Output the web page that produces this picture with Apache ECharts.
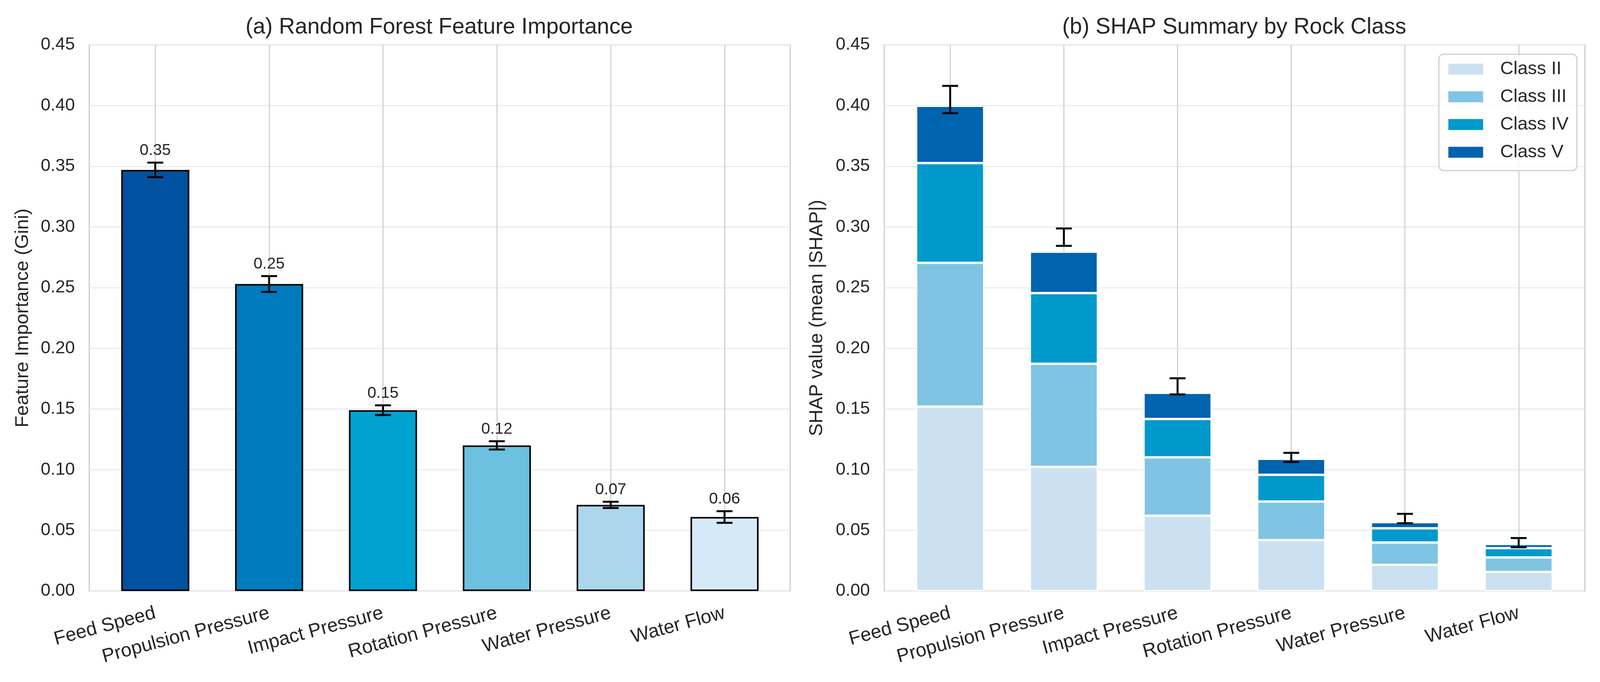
<!DOCTYPE html>
<html>
<head>
<meta charset="utf-8">
<script src="https://cdn.jsdelivr.net/npm/echarts@6/dist/echarts.min.js"></script>
<style>
  html, body { margin: 0; padding: 0; background: #fff; overflow: hidden; }
  #main { width: 100vw; height: 100vh; }
</style>
</head>
<body>
<div id="main"></div>
<script>
var features = ['Feed Speed', 'Propulsion Pressure', 'Impact Pressure', 'Rotation Pressure', 'Water Pressure', 'Water Flow'];
var yTicks = [0, 0.45, 0.05];

// (a) random forest importance and its std
var importance = [0.347, 0.253, 0.149, 0.120, 0.071, 0.061];
var importanceErr = [0.006, 0.0065, 0.004, 0.0034, 0.0026, 0.0048];
var importanceColors = ['#0052a0', '#007bbd', '#00a2d2', '#6cc0e0', '#add6ec', '#d6e9f7'];

// (b) mean |SHAP| per rock class
var classNames = ['Class II', 'Class III', 'Class IV', 'Class V'];
var classColors = ['#cbe1f1', '#7fc4e2', '#0099cb', '#0063ae'];
var shapClass2 = [0.152, 0.1023, 0.0621, 0.0419, 0.0216, 0.0158];
var shapClass3 = [0.1184, 0.085, 0.0481, 0.0318, 0.0184, 0.0119];
var shapClass4 = [0.0822, 0.0582, 0.0316, 0.0221, 0.0117, 0.0077];
var shapClass5 = [0.0472, 0.0341, 0.0215, 0.0132, 0.0051, 0.0034];
var shapErrLow = [0.3937, 0.2844, 0.162, 0.1063, 0.0559, 0.036];
var shapErrHigh = [0.4162, 0.2987, 0.1753, 0.1139, 0.0636, 0.0437];

var FONT = "'Liberation Sans', Arial, sans-serif";
var TXT = '#262626';

// layout was measured on a 4230x1747 figure; the window may be narrower
var el = document.getElementById('main');
var sx = el.clientWidth / 4230;
var sy = el.clientHeight / 1747;
var X = function(v) { return v * sx; };
var Y = function(v) { return v * sy; };
var F = function(v) { return Math.round(v * (sx + sy) / 2); };

var chart = echarts.init(el, null, {renderer: 'canvas'});

var errStyle = {stroke: '#000', lineWidth: 5};

function errorBar(lo, hi, cap) {
  return [
    {type: 'line', shape: {x1: lo[0], y1: lo[1], x2: hi[0], y2: hi[1]}, style: errStyle},
    {type: 'line', shape: {x1: lo[0] - cap, y1: lo[1], x2: lo[0] + cap, y2: lo[1]}, style: errStyle},
    {type: 'line', shape: {x1: hi[0] - cap, y1: hi[1], x2: hi[0] + cap, y2: hi[1]}, style: errStyle}
  ];
}

var frameAxisX = function(grid) {
  return {gridIndex: grid, type: 'value', min: 0, max: 1, show: false};
};
var frameAxisY = function(grid, name, gap) {
  return {
    gridIndex: grid, type: 'value', min: yTicks[0], max: yTicks[1], interval: yTicks[2],
    axisLine: {show: false}, axisTick: {show: false},
    axisLabel: {fontSize: F(46), fontFamily: FONT, color: TXT, margin: X(38), formatter: function(v){ return v.toFixed(2); }},
    splitLine: {show: true, lineStyle: {color: '#ebebeb', width: 3}},
    name: name, nameLocation: 'middle', nameGap: gap,
    nameTextStyle: {fontSize: F(50), fontFamily: FONT, color: TXT}
  };
};
var barAxisX = function(grid) {
  return {
    gridIndex: grid, type: 'category', data: features, boundaryGap: false,
    axisLine: {show: false}, axisTick: {show: false},
    axisLabel: {rotate: 15, fontSize: F(50), fontFamily: FONT, color: TXT, margin: Y(56), interval: 0},
    splitLine: {show: true, lineStyle: {color: '#d3d3d3', width: 3}}
  };
};
var barAxisY = function(grid) {
  return {gridIndex: grid, type: 'value', min: yTicks[0], max: yTicks[1], interval: yTicks[2], show: false, splitLine: {show: false}};
};

var stackSeries = [shapClass2, shapClass3, shapClass4, shapClass5].map(function(vals, k) {
  return {
    name: classNames[k], type: 'bar', stack: 'shap', xAxisIndex: 3, yAxisIndex: 3,
    barWidth: X(180), clip: false, data: vals,
    itemStyle: {color: classColors[k], borderColor: '#fff', borderWidth: 3}
  };
});

var titleStyle = {fontSize: F(58), fontFamily: FONT, fill: TXT, align: 'center', verticalAlign: 'middle'};

var option = {
  backgroundColor: '#fff',
  animation: false,
  textStyle: {fontFamily: FONT},
  graphic: [
    {type: 'text', x: X(1161), y: Y(70), style: Object.assign({text: '(a) Random Forest Feature Importance'}, titleStyle)},
    {type: 'text', x: X(3263), y: Y(70), style: Object.assign({text: '(b) SHAP Summary by Rock Class'}, titleStyle)}
  ],
  legend: {
    data: classNames, orient: 'vertical', left: X(3804), top: Y(139),
    icon: 'rect', itemWidth: X(94), itemHeight: Y(30), itemGap: Y(23),
    padding: [Y(14), X(22), Y(23), X(23)],
    backgroundColor: 'rgba(255,255,255,0.8)', borderColor: '#d0d0d0', borderWidth: 3, borderRadius: 12,
    textStyle: {fontSize: F(48), fontFamily: FONT, color: TXT, lineHeight: Y(48), padding: [0, 0, 0, X(39)]}
  },
  grid: [
    {left: X(236), top: Y(115), width: X(1853), height: Y(1399), show: true, borderColor: '#cccccc', borderWidth: 3, backgroundColor: 'transparent'},
    {left: X(410.5), top: Y(115), width: X(1505), height: Y(1399)},
    {left: X(2338), top: Y(115), width: X(1852), height: Y(1399), show: true, borderColor: '#cccccc', borderWidth: 3, backgroundColor: 'transparent'},
    {left: X(2512), top: Y(115), width: X(1503), height: Y(1399)}
  ],
  xAxis: [frameAxisX(0), barAxisX(1), frameAxisX(2), barAxisX(3)],
  yAxis: [
    frameAxisY(0, 'Feature Importance (Gini)', X(236) - X(60) - F(25)),
    barAxisY(1),
    frameAxisY(2, 'SHAP value (mean |SHAP|)', X(2338) - X(2159) - F(25)),
    barAxisY(3)
  ],
  series: [
    {
      type: 'bar', xAxisIndex: 1, yAxisIndex: 1, barWidth: X(180), clip: false,
      data: importance.map(function(v, i) {
        return {value: v, itemStyle: {color: importanceColors[i]}};
      }),
      itemStyle: {borderColor: '#000', borderWidth: 4}
    },
    {
      type: 'custom', xAxisIndex: 1, yAxisIndex: 1, z: 5,
      data: importance.map(function(v, i) { return [i, v - importanceErr[i], v + importanceErr[i]]; }),
      renderItem: function(params, api) {
        var x = api.value(0);
        var lo = api.coord([x, api.value(1)]);
        var hi = api.coord([x, api.value(2)]);
        var kids = errorBar(lo, hi, X(21));
        kids.push({
          type: 'text', x: hi[0], y: hi[1] - Y(10),
          style: {text: importance[params.dataIndex].toFixed(2), fontSize: F(42), fontFamily: FONT, fill: TXT, align: 'center', verticalAlign: 'bottom'}
        });
        return {type: 'group', children: kids};
      }
    }
  ].concat(stackSeries).concat([
    {
      type: 'custom', xAxisIndex: 3, yAxisIndex: 3, z: 5,
      data: shapErrLow.map(function(v, i) { return [i, v, shapErrHigh[i]]; }),
      renderItem: function(params, api) {
        var x = api.value(0);
        var lo = api.coord([x, api.value(1)]);
        var hi = api.coord([x, api.value(2)]);
        return {type: 'group', children: errorBar(lo, hi, X(21))};
      }
    }
  ])
};

chart.setOption(option);
</script>
</body>
</html>
